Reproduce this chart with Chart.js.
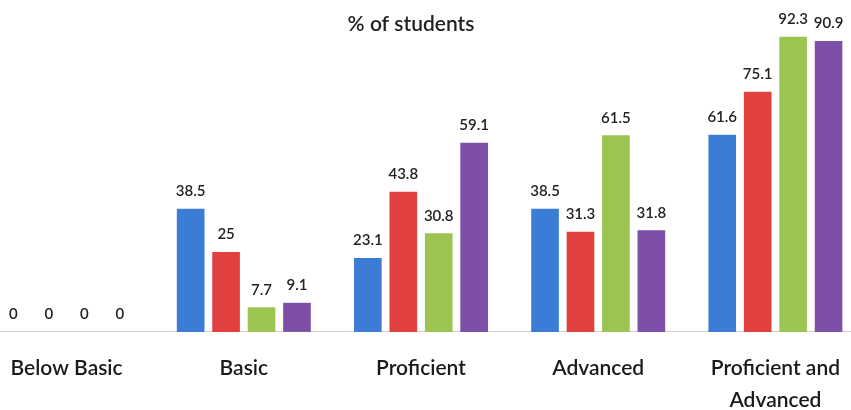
<!DOCTYPE html>
<html>
<head>
<meta charset="utf-8">
<script src="https://cdn.jsdelivr.net/npm/chart.js@4"></script>
<style>
  html, body { margin: 0; padding: 0; background: #fff; overflow: hidden; }
  #wrap { position: absolute; left: -22px; top: 0; width: 886px; height: 410px; }
</style>
</head>
<body>
<div id="wrap"><canvas id="myChart"></canvas></div>
<script>
// categories and the four series
var kategori = ['Below Basic', 'Basic', 'Proficient', 'Advanced', ['Proficient and', 'Advanced']];
var seri1 = [0, 38.5, 23.1, 38.5, 61.6];
var seri2 = [0, 25, 43.8, 31.3, 75.1];
var seri3 = [0, 7.7, 30.8, 61.5, 92.3];
var seri4 = [0, 9.1, 59.1, 31.8, 90.9];
var warna = ['#3b7dd6', '#e0413f', '#9cc452', '#7e4fa8'];
var judul = '% of students';

// value labels above each bar + title
var labelPlugin = {
    id: 'labelBatang',
    afterDatasetsDraw: function(chart) {
        var ctx = chart.ctx;
        ctx.save();
        ctx.fillStyle = '#222';
        ctx.font = '600 15px Lato';
        ctx.textAlign = 'center';
        ctx.textBaseline = 'bottom';
        chart.data.datasets.forEach(function(ds, i) {
            chart.getDatasetMeta(i).data.forEach(function(bar, j) {
                ctx.fillText(String(ds.data[j]), bar.x, bar.y - 10);
            });
        });
        ctx.font = '600 21px Lato';
        ctx.textBaseline = 'middle';
        ctx.fillText(judul, 22 + 411, 24);
        ctx.restore();
    }
};

var ctx = document.getElementById('myChart').getContext('2d');
var myChart = new Chart(ctx, {
    type: 'bar',
    data: {
        labels: kategori,
        datasets: [seri1, seri2, seri3, seri4].map(function(d, i) {
            return {
                data: d,
                backgroundColor: warna[i],
                borderWidth: 0,
                categoryPercentage: 0.8,
                barPercentage: 0.78
            };
        })
    },
    options: {
        responsive: true,
        maintainAspectRatio: false,
        animation: false,
        layout: { padding: { top: 12, bottom: -19, left: 0, right: 0 } },
        plugins: {
            legend: { display: false },
            tooltip: { enabled: false }
        },
        scales: {
            x: {
                grid: { display: false },
                border: { display: true, color: '#dccaca', width: 1 },
                ticks: {
                    color: '#1a1a1a',
                    font: { family: 'Lato', size: 21, weight: '600', lineHeight: 1.55 },
                    padding: 12,
                    maxRotation: 0,
                    autoSkip: false
                }
            },
            y: {
                display: false,
                min: 0,
                max: 100
            }
        }
    },
    plugins: [labelPlugin]
});
</script>
</body>
</html>
